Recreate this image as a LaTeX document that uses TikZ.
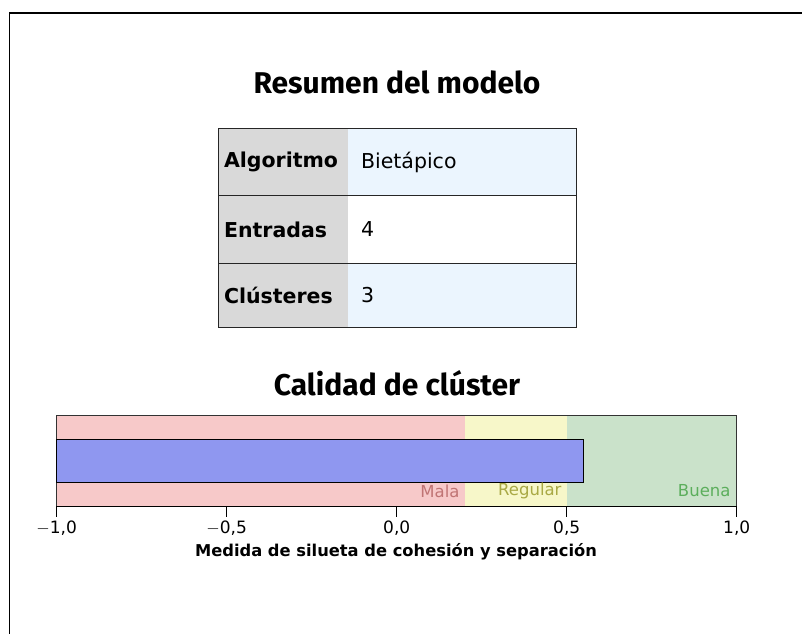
\documentclass[tikz,border=0pt]{standalone}
\usepackage{fontspec}
\setmainfont{DejaVu Sans}
\newfontfamily\titlefont{Fira Sans}
\definecolor{gridgray}{HTML}{D9D9D9}
\definecolor{cellblue}{HTML}{EBF5FE}
\definecolor{malafill}{HTML}{F7C9C9}
\definecolor{regfill}{HTML}{F7F7C9}
\definecolor{buenafill}{HTML}{CAE2CA}
\definecolor{barblue}{HTML}{8F97F0}
\definecolor{malatext}{HTML}{C07474}
\definecolor{regtext}{HTML}{A9A945}
\definecolor{buenatext}{HTML}{5CAE5C}
\tikzset{
  x=1pt, y=-1pt,
  titletext/.style={font=\titlefont\bfseries\fontsize{30}{34}\selectfont, anchor=center},
  celltext/.style={font=\fontsize{20.5}{24}\selectfont, anchor=west},
  headtext/.style={font=\bfseries\fontsize{20.5}{24}\selectfont, anchor=west},
  ticklabel/.style={font=\fontsize{17}{20}\selectfont, anchor=center},
  zonelabel/.style={font=\fontsize{16.5}{19}\selectfont, anchor=east},
  frameline/.style={line width=1.6pt, black},
  gridline/.style={line width=1pt, black!85},
}
\begin{document}
\begin{tikzpicture}
\useasboundingbox (0,0) rectangle (802,634);
\fill[white] (0,0) rectangle (802,634);
% outer frame (top and left only visible)
\draw[frameline] (802,13) -- (9.5,13) -- (9.5,634);
% title
\node[titletext] (t1) at (397,82) {Resumen del modelo};
% table
\fill[gridgray] (218,128) rectangle (348,327);
\fill[cellblue] (348,128) rectangle (576,195);
\fill[white] (348,195) rectangle (576,263);
\fill[cellblue] (348,263) rectangle (576,327);
\draw[gridline] (218,128) rectangle (576,327);
\draw[gridline] (218,195) -- (576,195);
\draw[gridline] (218,263) -- (576,263);
\node[headtext] (h1) at (220.5,162) {Algoritmo};
\node[headtext] (h2) at (220.5,229.5) {Entradas};
\node[headtext] (h3) at (220.5,295.5) {Clústeres};
\node[celltext] (v1) at (357.5,162) {Bietápico};
\node[celltext] (v2) at (357.5,229.5) {4};
\node[celltext] (v3) at (357.5,295.5) {3};
% chart title
\node[titletext] (t2) at (397,383) {Calidad de clúster};
% zones
\fill[malafill] (56.7,415) rectangle (464.7,506);
\fill[regfill] (464.7,415) rectangle (566.7,506);
\fill[buenafill] (566.7,415) rectangle (736.7,506);
\draw[line width=0.8pt, black!80] (56.7,506) -- (56.7,415) -- (736.7,415) -- (736.7,506);
\draw[line width=0.9pt, black] (56.7,506) -- (736.7,506);
% bar
\draw[line width=1pt, black, fill=barblue] (56.7,439) rectangle (583.7,482);
% zone labels
\node[zonelabel, text=malatext] (lm) at (463,491) {Mala};
\node[zonelabel, text=regtext] (lr) at (565,491) {Regular};
\node[zonelabel, text=buenatext] (lb) at (734,491) {Buena};
% ticks
\foreach \x/\lab in {56.7/{$-$1,0}, 226.7/{$-$0,5}, 396.7/{0,0}, 566.7/{0,5}, 736.7/{1,0}} {
  \draw[line width=0.9pt] (\x,506) -- (\x,517);
  \node[ticklabel] at (\x,528) {\lab};
}
\node[font=\bfseries\fontsize{16.3}{19}\selectfont] (ax) at (396,552) {Medida de silueta de cohesión y separación};
\end{tikzpicture}
\end{document}
